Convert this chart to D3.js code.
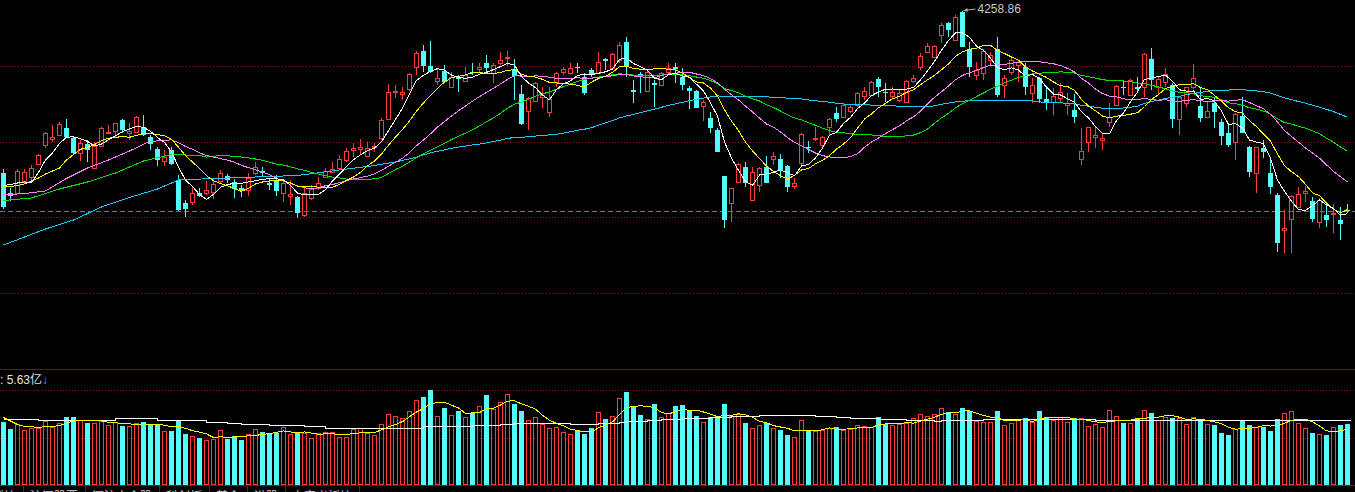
<!DOCTYPE html>
<html>
<head>
<meta charset="utf-8">
<script src="https://cdn.jsdelivr.net/npm/d3@7"></script>
<style>
  body { margin: 0; background: #000; overflow: hidden; }
  svg { display: block; }
</style>
</head>
<body>
<svg id="chart" width="1355" height="492"></svg>
<script>
// Daily candles (index points)
const opens = [3934,3894,3894,3918,3926,3952,3990,4002,4010,4024,4004,3974,3992,3944,3988,4014,4018,4040,4014,4016,
  4026,4006,3982,3958,3980,3920,3874,3876,3894,3894,3896,3918,3928,3916,3904,3900,3934,3938,3914,3920,
  3894,3888,3886,3850,3884,3904,3926,3936,3944,3960,3980,3982,3968,3986,4004,4042,4096,4092,4102,4146,
  4178,4148,4118,4138,4106,4126,4118,4136,4142,4154,4134,4154,4164,4142,4092,4058,4078,4086,4056,4116,
  4136,4134,4146,4126,4140,4134,4162,4144,4160,4196,4100,4132,4098,4114,4110,4136,4146,4126,4104,4098,
  4068,4044,4020,3928,3874,3916,3946,3880,3910,3946,3962,3962,3948,3908,3954,3986,4002,3990,4026,4054,
  4046,4058,4070,4088,4090,4122,4096,4088,4080,4076,4118,4146,4176,4166,4210,4234,4200,4256,4182,4130,
  4134,4160,4182,4110,4136,4150,4146,4094,4124,4082,4076,4084,4070,4060,3962,3996,4006,4000,4036,4070,
  4106,4090,4106,4106,4162,4106,4116,4110,4042,4074,4106,4068,4046,4074,4036,4014,3996,4048,3986,3934,
  3984,3934,3890,3820,3842,3866,3894,3878,3836,3850,3852,3840,3860];
const highs = [3942,3904,3942,3942,3950,3972,4016,4030,4036,4042,4008,4000,4000,3996,4026,4030,4034,4042,4034,4048,
  4050,4010,3986,3980,3986,3930,3880,3906,3904,3918,3924,3940,3932,3922,3910,3934,3956,3946,3924,3930,
  3920,3920,3888,3904,3910,3926,3944,3956,3970,3984,3994,4002,3996,3994,4044,4112,4110,4106,4134,4178,
  4190,4198,4142,4150,4136,4130,4146,4154,4154,4170,4154,4176,4178,4162,4110,4086,4116,4106,4106,4136,
  4146,4154,4154,4134,4144,4176,4164,4174,4196,4206,4120,4136,4140,4120,4136,4154,4154,4144,4108,4100,
  4080,4056,4024,3928,3904,3954,3956,3946,3946,3968,3976,3972,3950,3924,4014,3998,4026,4008,4044,4066,
  4072,4072,4096,4106,4118,4126,4114,4106,4100,4120,4130,4174,4194,4190,4234,4236,4250,4258.86,4196,4156,
  4182,4176,4206,4130,4164,4160,4154,4124,4126,4104,4104,4114,4094,4092,4024,4026,4026,4014,4074,4110,
  4120,4122,4126,4174,4184,4126,4144,4114,4088,4106,4152,4104,4076,4084,4042,4034,4054,4086,3988,3986,
  4000,3962,3894,3860,3890,3906,3908,3886,3884,3870,3872,3866,3872];
const lows = [3862,3878,3894,3914,3916,3950,3984,3996,4008,4004,3970,3958,3956,3944,3988,4012,4006,4014,4000,4014,
  4008,3980,3948,3948,3950,3858,3846,3870,3886,3890,3882,3914,3914,3884,3886,3888,3930,3926,3900,3888,
  3876,3870,3844,3846,3880,3900,3924,3934,3940,3956,3966,3970,3966,3976,4000,4040,4084,4080,4098,4130,
  4136,4134,4110,4114,4104,4096,4116,4130,4134,4136,4114,4150,4148,4080,4030,4020,4076,4064,4046,4106,
  4130,4134,4134,4090,4126,4134,4140,4142,4154,4126,4074,4094,4096,4066,4108,4130,4114,4100,4062,4064,
  4038,4014,3976,3824,3836,3914,3906,3878,3896,3914,3950,3924,3896,3902,3948,3974,3998,3986,4010,4036,
  4044,4054,4066,4080,4088,4086,4076,4084,4076,4076,4114,4140,4174,4164,4194,4206,4200,4186,4126,4120,
  4120,4150,4086,4084,4130,4116,4090,4074,4074,4060,4050,4076,4050,4034,3950,3976,3984,3980,4026,4068,
  4090,4088,4096,4086,4100,4090,4106,4024,4010,4066,4102,4036,4044,4024,3990,3986,3960,4014,3926,3894,
  3964,3892,3776,3774,3774,3866,3876,3836,3824,3826,3814,3800,3854];
const closes = [3866,3888,3938,3936,3944,3970,4014,4006,4032,4006,3974,3994,3980,3988,4024,4016,4034,4020,4018,4046,
  4010,3992,3960,3966,3952,3860,3862,3894,3888,3900,3912,3934,3920,3902,3900,3924,3946,3934,3910,3898,
  3914,3892,3854,3894,3902,3914,3938,3942,3962,3978,3984,3986,3984,3988,4040,4096,4098,4096,4132,4174,
  4148,4136,4124,4116,4126,4122,4130,4134,4146,4144,4150,4160,4166,4128,4032,4084,4114,4090,4082,4134,
  4142,4144,4144,4094,4130,4156,4158,4172,4190,4148,4096,4128,4136,4110,4134,4144,4142,4110,4098,4064,
  4076,4024,3976,3840,3904,3952,3914,3936,3944,3914,3968,3940,3906,3914,4012,3984,4004,4006,4042,4042,
  4070,4066,4094,4098,4116,4106,4094,4096,4094,4118,4124,4168,4188,4188,4230,4220,4246,4186,4146,4140,
  4178,4170,4090,4124,4160,4156,4106,4110,4082,4074,4088,4096,4074,4046,3978,4026,4010,4004,4046,4108,
  4104,4120,4102,4172,4120,4122,4132,4042,4086,4106,4124,4044,4058,4056,4008,3990,4052,4014,3936,3986,
  3976,3906,3794,3824,3888,3892,3898,3842,3880,3840,3854,3832,3858];
// Turnover per day, in 亿
const volumes = [5.84,5.17,5.63,5.08,5.23,5.29,5.91,5.38,5.69,6.28,6.28,6.00,5.75,5.69,5.91,5.54,5.84,5.45,5.45,5.69,
  5.81,5.54,5.60,4.98,4.98,5.91,4.71,4.49,4.34,4.12,4.25,5.05,4.25,4.52,4.15,4.71,5.17,4.89,4.71,4.83,
  5.33,4.71,4.83,4.77,4.34,4.77,4.89,4.89,4.40,4.40,5.14,5.26,4.83,4.59,5.60,6.53,6.37,6.16,6.83,7.82,
  8.12,8.77,6.37,7.11,6.46,6.83,6.25,6.62,7.29,8.31,7.04,7.66,8.40,7.48,6.83,6.00,6.25,5.63,5.23,5.33,
  4.86,4.71,5.01,4.71,5.26,6.71,6.09,6.37,8.00,8.58,7.17,6.46,6.06,7.48,6.25,6.62,7.29,7.38,6.86,6.37,
  5.79,6.25,6.25,7.48,6.37,6.53,5.72,5.23,5.54,5.69,5.23,5.08,4.62,4.40,5.97,5.01,5.01,5.08,5.29,5.33,
  5.08,5.14,5.51,5.42,5.38,6.28,5.60,5.51,5.63,5.69,6.16,6.53,6.34,6.53,7.08,6.74,6.58,7.11,6.80,5.88,
  5.79,5.79,6.83,5.51,5.72,6.00,6.18,5.79,6.83,6.25,6.00,6.25,5.79,6.18,6.16,5.42,5.60,5.33,6.89,6.34,
  5.72,5.69,6.16,6.89,6.65,5.97,6.28,6.18,6.21,5.60,6.25,6.09,5.60,5.54,4.80,4.62,5.17,5.93,5.54,5.38,
  5.38,4.98,6.09,6.62,6.80,5.69,5.23,4.80,4.68,4.62,5.33,5.54,5.63];

// Moving-average values before the window has enough history
const ma5Head = [[0,3909],[1,3911],[2,3914],[3,3916]];
const ma10Head = [[0,3906],[1,3907],[2,3909],[3,3912],[4,3918],[5,3924],[6,3932],[7,3938],[8,3944]];
const ma20Head = [[0,3890],[3,3893],[6,3898],[9,3923],[12,3944],[15,3960],[18,3978]];
const ma30Head = [[0,3879],[4,3884],[8,3902],[12,3916],[16,3934],[20,3958],[24,3971],[28,3969]];
const ma60Head = [[0,3790],[6,3822],[10,3840],[14,3866],[18,3885],[22,3902],[25,3920],[30,3923],
  [36,3926],[42,3929],[48,3940],[52,3947],[56,3956]];
const volMa5Head = [[0,6.23],[1,5.91],[2,5.58],[3,5.40]];
// Long volume average: [day index, value] at each step change
const volMaLong = [[0,6.06],[5,5.93],[16,6.16],[22,5.97],[29,5.79],[32,5.69],[34,5.60],[38,5.47],[43,5.38],
  [46,5.26],[60,5.42],[67,5.51],[71,5.60],[73,5.69],[81,5.60],[85,5.69],[88,5.79],[89,5.88],[92,5.97],
  [94,6.06],[97,6.16],[101,6.25],[104,6.34],[108,6.43],[116,6.34],[119,6.25],[121,6.16],[125,6.06],
  [129,5.97],[133,5.84],[134,5.97],[140,6.06],[156,5.95],[192,5.95]];

const priceGrid = [4148, 3996, 3846, 3694];
const volumeGrid = [4.385, 8.77];
const tabLabels = ["板块", "沪深股票", "深沪京个股", "科创板", "基金", "港股", "自定义板块"];

const n = closes.length;
const UP = "#ff3c3c", DOWN = "#54fcfc";
const maColors = ["#ffffff", "#ffff00", "#ff80ff", "#00e000", "#20c8f8"];

const svg = d3.select("#chart");
const W = +svg.attr("width");
svg.append("rect").attr("width", W).attr("height", 492).attr("fill", "#000");

const x = d3.scaleLinear().domain([0, n - 1]).range([3.5, 3.5 + 7 * (n - 1)]);
const yPrice = d3.scaleLinear().domain([3542, 4280]).range([369, 0]);
const yVol = d3.scaleLinear().domain([0, 8.77]).range([485, 390]);

const g = svg.append("g").attr("shape-rendering", "crispEdges");

// Dotted grid lines
g.selectAll(".pgrid").data(priceGrid).enter().append("line")
  .attr("x1", 0).attr("x2", W)
  .attr("y1", d => Math.round(yPrice(d)) + 0.5).attr("y2", d => Math.round(yPrice(d)) + 0.5)
  .attr("stroke", "#900000").attr("stroke-dasharray", "1,2");
g.selectAll(".vgrid").data(volumeGrid).enter().append("line")
  .attr("x1", 0).attr("x2", W)
  .attr("y1", d => Math.round(yVol(d)) + 0.5).attr("y2", d => Math.round(yVol(d)) + 0.5)
  .attr("stroke", "#900000").attr("stroke-dasharray", "1,2");

// Last close reference line
const yLast = Math.round(yPrice(closes[n - 1])) + 0.5;
g.append("line").attr("x1", 0).attr("x2", W).attr("y1", yLast).attr("y2", yLast)
  .attr("stroke", "#ff3c3c").attr("stroke-dasharray", "5,3");

// Panel separator and bottom frame
g.append("line").attr("x1", 0).attr("x2", W).attr("y1", 369.5).attr("y2", 369.5).attr("stroke", "#a00000");
g.append("line").attr("x1", 0).attr("x2", W).attr("y1", 485.5).attr("y2", 485.5).attr("stroke", "#a00000");

// Candles
const days = d3.range(n).map(i => ({
  i, o: opens[i], h: highs[i], l: lows[i], c: closes[i], v: volumes[i], up: closes[i] >= opens[i]
}));

const candle = g.selectAll(".candle").data(days).enter().append("g");
candle.each(function (d) {
  const sel = d3.select(this);
  const cx = x(d.i);
  const top = Math.round(yPrice(Math.max(d.o, d.c)));
  const bot = Math.round(yPrice(Math.min(d.o, d.c)));
  const yh = Math.round(yPrice(d.h)), yl = Math.round(yPrice(d.l));
  if (d.up) {
    sel.append("line").attr("x1", cx).attr("x2", cx).attr("y1", yh).attr("y2", top).attr("stroke", UP);
    sel.append("line").attr("x1", cx).attr("x2", cx).attr("y1", bot).attr("y2", yl).attr("stroke", UP);
    sel.append("rect").attr("x", cx - 2).attr("y", top + 0.5).attr("width", 4)
      .attr("height", Math.max(bot - top, 0)).attr("fill", "none").attr("stroke", UP);
  } else {
    sel.append("line").attr("x1", cx).attr("x2", cx).attr("y1", yh).attr("y2", yl).attr("stroke", DOWN);
    sel.append("rect").attr("x", cx - 2.5).attr("y", top).attr("width", 5)
      .attr("height", Math.max(bot - top, 1)).attr("fill", DOWN);
  }
});

// Moving averages
function movingAverage(values, period, head) {
  const pts = head.map(d => d.slice());
  for (let i = period - 1; i < values.length; i++) {
    pts.push([i, d3.mean(values.slice(i - period + 1, i + 1))]);
  }
  return pts;
}
const priceLine = d3.line().x(d => x(d[0])).y(d => yPrice(d[1]));
const mas = [
  movingAverage(closes, 5, ma5Head),
  movingAverage(closes, 10, ma10Head),
  movingAverage(closes, 20, ma20Head),
  movingAverage(closes, 30, ma30Head),
  movingAverage(closes, 60, ma60Head)
];
g.selectAll(".ma").data(mas.slice().reverse()).enter().append("path")
  .attr("d", priceLine)
  .attr("fill", "none")
  .attr("stroke", (d, k) => maColors[mas.length - 1 - k])
  .attr("stroke-width", 1);

// Highest high marker
const iMax = d3.maxIndex(highs);
const yMax = yPrice(highs[iMax]);
const lab = svg.append("g");
lab.append("line").attr("x1", x(iMax) + 1).attr("x2", x(iMax) + 13)
  .attr("y1", yMax).attr("y2", yMax - 1.5).attr("stroke", "#b0b0b0");
lab.append("path")
  .attr("d", `M${x(iMax) + 1},${yMax} l4,-2.5 l0,4 z`).attr("fill", "#b0b0b0");
lab.append("text").attr("x", x(iMax) + 15).attr("y", yMax + 2)
  .attr("fill", "#c8c8c8").style("font", "12px 'Liberation Sans', Arial, sans-serif")
  .text(d3.format(".2f")(highs[iMax]));

// Volume bars
const vbar = g.selectAll(".vol").data(days).enter().append("g");
vbar.each(function (d) {
  const sel = d3.select(this);
  const cx = x(d.i);
  const top = Math.round(yVol(d.v));
  if (d.up) {
    sel.append("rect").attr("x", cx - 2).attr("y", top + 0.5).attr("width", 4)
      .attr("height", 484 - top).attr("fill", "none").attr("stroke", UP);
  } else {
    sel.append("rect").attr("x", cx - 2.5).attr("y", top).attr("width", 5)
      .attr("height", 485 - top).attr("fill", DOWN);
  }
});

// Volume averages
const volLine = d3.line().x(d => x(d[0])).y(d => yVol(d[1]));
g.append("path").attr("d", volLine.curve(d3.curveStepAfter)(volMaLong.concat([[n - 0.5, volMaLong[volMaLong.length - 1][1]]])))
  .attr("fill", "none").attr("stroke", "#ffffff");
g.append("path").attr("d", d3.line().x(d => x(d[0])).y(d => yVol(d[1]))(movingAverage(volumes, 5, volMa5Head)))
  .attr("fill", "none").attr("stroke", "#ffff00");

// Volume caption
const cap = svg.append("text").attr("x", 0).attr("y", 384)
  .style("font", "12px 'Liberation Sans', 'Noto Sans CJK SC', sans-serif");
cap.append("tspan").attr("fill", "#e0e0e0").text(": " + volumes[n - 1].toFixed(2) + "亿");
cap.append("tspan").attr("fill", "#28b4e0").text("↓");

// Bottom tabs (mostly clipped by the window edge, as in the terminal)
const tabs = svg.append("g");
let tx = -15;
tabLabels.forEach(t => {
  const txt = tabs.append("text").attr("x", tx + 7).attr("y", 501)
    .attr("fill", "#d0d0d0").style("font", "12px 'Noto Sans CJK SC', sans-serif").text(t);
  tx += txt.node().getComputedTextLength() + 14;
  tabs.append("line").attr("x1", Math.round(tx) + 0.5).attr("x2", Math.round(tx) + 0.5)
    .attr("y1", 486).attr("y2", 492).attr("stroke", "#a00000");
});
</script>
</body>
</html>
